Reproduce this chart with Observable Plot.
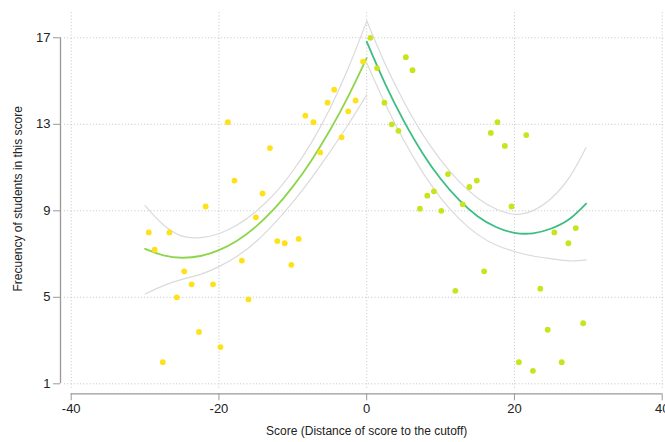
<!DOCTYPE html>
<html>
<head>
<meta charset="utf-8">
<script src="https://cdn.jsdelivr.net/npm/d3@7"></script>
<script src="https://cdn.jsdelivr.net/npm/@observablehq/plot@0.6"></script>
<style>
  html, body { margin: 0; padding: 0; background: #fff; overflow: hidden; }
  #chart svg { display: block; }
</style>
</head>
<body>
<div id="chart"></div>
<script>
// ---- scatter data ----
const leftX  = [-29.5,-28.7,-27.6,-26.7,-25.7,-24.7,-23.7,-22.7,-21.8,-20.8,-19.8,-18.8,-17.9,-16.9,-16.0,-15.0,-14.1,-13.1,-12.1,-11.1,-10.2,-9.2,-8.3,-7.2,-6.3,-5.3,-4.4,-3.4,-2.5,-1.5,-0.5];
const leftY  = [8.0,7.2,2.0,8.0,5.0,6.2,5.6,3.4,9.2,5.6,2.7,13.1,10.4,6.7,4.9,8.7,9.8,11.9,7.6,7.5,6.5,7.7,13.4,13.1,11.7,14.0,14.6,12.4,13.6,14.1,15.9];
const rightX = [0.5,1.4,2.4,3.4,4.3,5.3,6.2,7.2,8.2,9.1,10.1,11.0,12.0,13.0,13.9,14.9,15.9,16.8,17.7,18.7,19.6,20.6,21.6,22.5,23.5,24.5,25.4,26.4,27.3,28.3,29.3];
const rightY = [17.0,15.6,14.0,13.0,12.7,16.1,15.5,9.1,9.7,9.9,9.0,10.7,5.3,9.3,10.1,10.4,6.2,12.6,13.1,12.0,9.2,2.0,12.5,1.6,5.4,3.5,8.0,2.0,7.5,8.2,3.8];

// ---- fitted quadratic and its 95% CI ----
const fitLeftX   = [-30,-27.5,-25,-22.5,-20,-17.5,-15,-12.5,-10,-7.5,-5,-2.5,0];
const fitLeftY   = [7.24,6.94,6.83,6.91,7.18,7.63,8.27,9.10,10.12,11.32,12.71,14.29,16.06];
const fitLeftHi  = [9.24,8.34,7.83,7.76,7.94,8.35,8.97,9.78,10.84,12.14,13.71,15.59,17.76];
const fitLeftLo  = [5.15,5.54,5.83,6.06,6.42,6.91,7.57,8.42,9.40,10.50,11.71,12.99,14.36];

const fitRightX  = [0,2.5,5,7.5,10,12.5,15,17.5,20,22.5,25,27.5,29.7];
const fitRightY  = [16.82,14.87,13.17,11.70,10.48,9.50,8.75,8.25,7.98,7.96,8.18,8.63,9.33];
const fitRightHi = [17.79,15.79,14.07,12.58,11.36,10.36,9.59,9.08,8.84,9.01,9.58,10.58,11.93];
const fitRightLo = [15.85,13.95,12.27,10.82,9.60,8.64,7.91,7.42,7.12,6.91,6.78,6.68,6.73];

const xTicks = [-40, -20, 0, 20, 40];
const yTicks = [1, 5, 9, 13, 17];
const xTitle = "Score (Distance of score to the cutoff)";
const yTitle = "Frecuency of students in this score";

const leftPts  = leftX.map((x, i) => ({x, y: leftY[i]}));
const rightPts = rightX.map((x, i) => ({x, y: rightY[i]}));
const leftFit  = fitLeftX.map((x, i) => ({x, y: fitLeftY[i], hi: fitLeftHi[i], lo: fitLeftLo[i]}));
const rightFit = fitRightX.map((x, i) => ({x, y: fitRightY[i], hi: fitRightHi[i], lo: fitRightLo[i]}));

const gridYExtent = [0.8, 18.25];
const gridXExtent = [-40.9, 40.2];

const ci = {stroke: "#dadada", strokeWidth: 1.2, curve: "natural"};

const chart = Plot.plot({
  width: 665,
  height: 442,
  marginLeft: 70.7,
  marginRight: 3.3,
  marginTop: 37.3,
  marginBottom: 58.7,
  style: {fontFamily: "'Liberation Sans', Arial, Helvetica, sans-serif", fontSize: "13px", background: "#fff", color: "#222"},
  x: {domain: [-40, 40]},
  y: {domain: [1, 17]},
  marks: [
    // dotted grid
    Plot.ruleX(xTicks, {x: d => d, y1: gridYExtent[0], y2: gridYExtent[1], stroke: "#c4c4c4", strokeWidth: 1, strokeDasharray: "1,2.2"}),
    Plot.ruleY(yTicks, {y: d => d, x1: gridXExtent[0], x2: gridXExtent[1], stroke: "#c4c4c4", strokeWidth: 1, strokeDasharray: "1,2.2"}),
    // confidence interval lines
    Plot.line(leftFit,  {x: "x", y: "hi", ...ci}),
    Plot.line(leftFit,  {x: "x", y: "lo", ...ci}),
    Plot.line(rightFit, {x: "x", y: "hi", ...ci}),
    Plot.line(rightFit, {x: "x", y: "lo", ...ci}),
    // fitted lines
    Plot.line(leftFit,  {x: "x", y: "y", stroke: "#8dd64b", strokeWidth: 1.8, curve: "natural"}),
    Plot.line(rightFit, {x: "x", y: "y", stroke: "#3dbd83", strokeWidth: 1.8, curve: "natural"}),
    // scatter
    Plot.dot(leftPts,  {x: "x", y: "y", r: 2.9, fill: "#ffe119", stroke: "none"}),
    Plot.dot(rightPts, {x: "x", y: "y", r: 2.9, fill: "#c9e31c", stroke: "none"}),
    // offset axis lines
    Plot.ruleY([1], {x1: -40, x2: 40, dy: 10, stroke: "#999", strokeWidth: 1.3}),
    Plot.ruleX([-40], {y1: 1, y2: 17, dx: -10.7, stroke: "#999", strokeWidth: 1.3}),
    Plot.axisX({ticks: xTicks, tickSize: 7, dy: 10, stroke: "#999", fill: "#222", fontSize: 13, label: null, tickFormat: d => d < 0 ? "-" + Math.abs(d) : String(d)}),
    Plot.axisY({ticks: yTicks, tickSize: 7, dx: -10.7, stroke: "#999", fill: "#222", fontSize: 13, label: null}),
    // titles
    Plot.text([xTitle], {frameAnchor: "bottom", dy: 47.4, text: d => d, fontSize: 12, fill: "#222", lineAnchor: "middle", textAnchor: "middle"}),
    Plot.text([yTitle], {frameAnchor: "left", dx: -52.7, dy: -12, rotate: -90, text: d => d, fontSize: 12, fill: "#222", lineAnchor: "middle", textAnchor: "middle"})
  ]
});
document.getElementById("chart").appendChild(chart);
</script>
</body>
</html>
